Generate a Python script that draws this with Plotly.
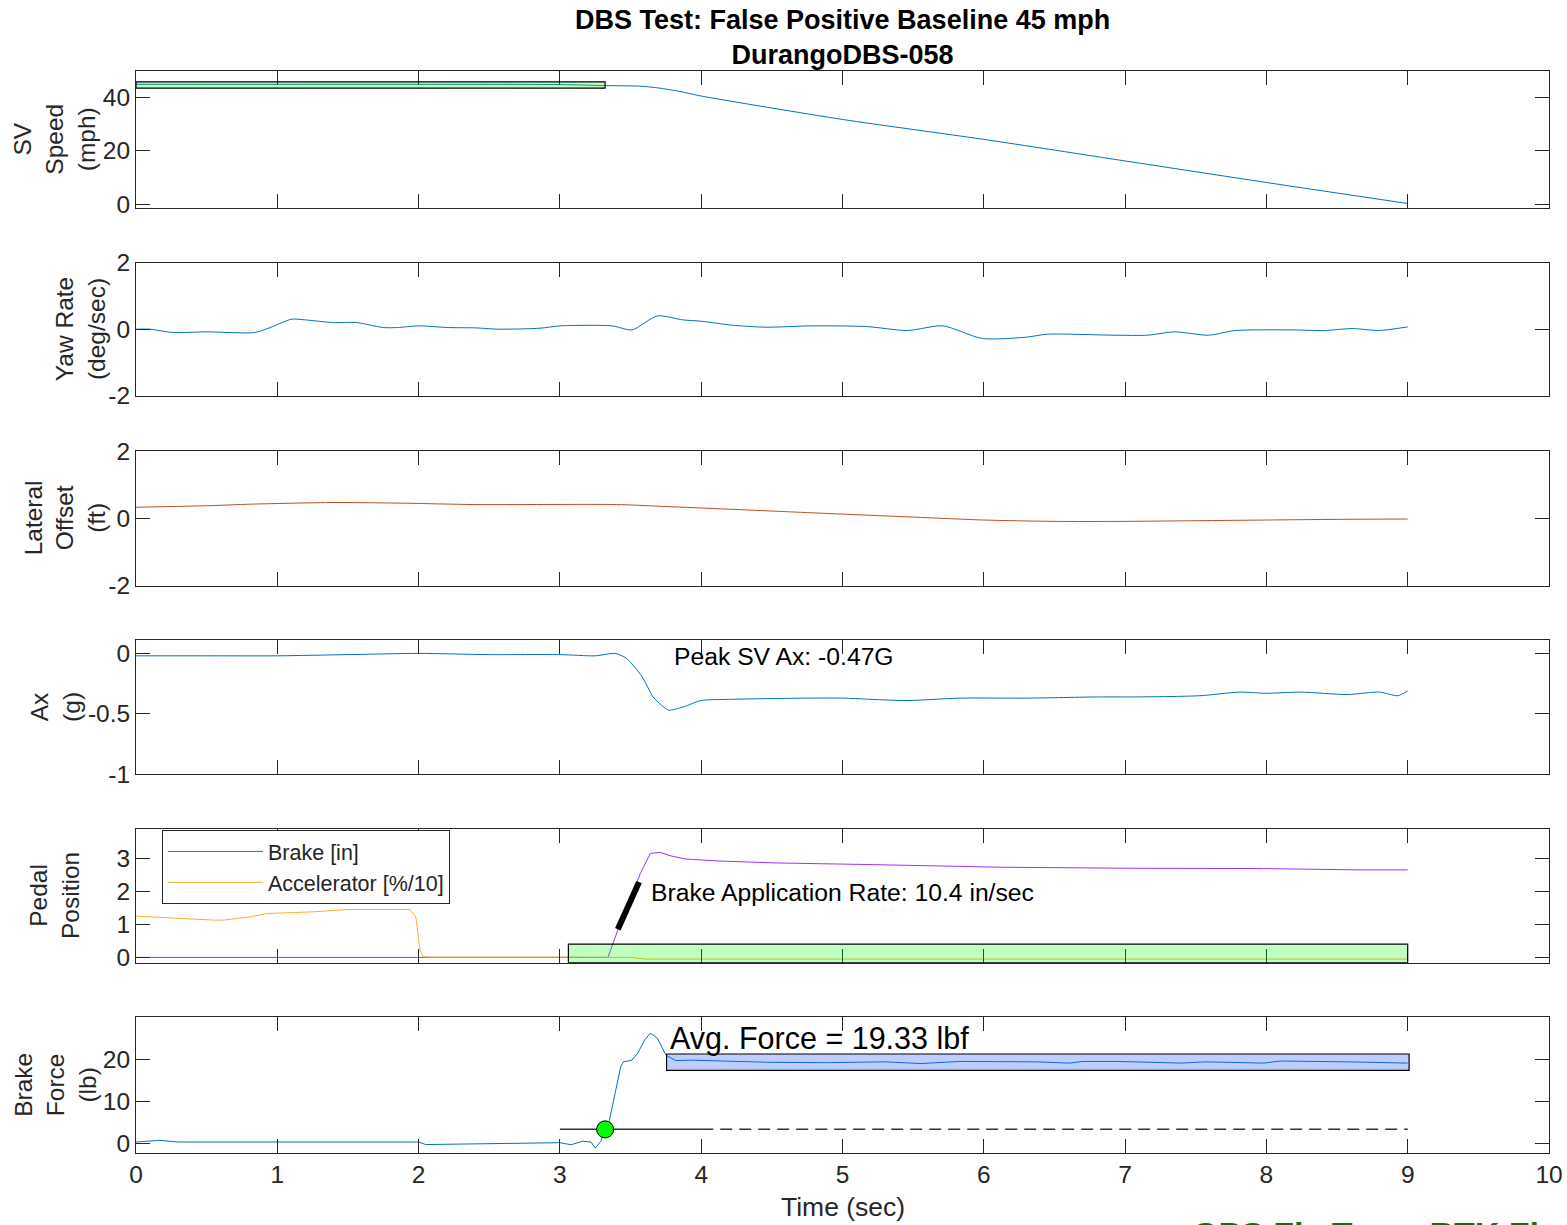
import plotly.graph_objects as go

FONT = "Liberation Sans, Arial, Helvetica, sans-serif"
DARK = "#262626"
BLUE = "#0072BD"
BROWN = "#B8521E"
PURPLE = "#9933FF"
ORANGE = "#FFAA33"

# ---------------- data ----------------
time_ticks = [0, 1, 2, 3, 4, 5, 6, 7, 8, 9, 10]

speed_t = [0, 1, 2, 3, 3.33, 3.57, 3.7, 3.85, 4.0, 5.0, 6.0, 7.0, 8.0, 9.0]
speed_mph = [45.0, 45.0, 45.0, 44.9, 44.5, 44.3, 43.6, 42.3, 40.6, 31.8, 24.3, 16.2, 8.1, 0.2]
speed_box = [0.0, 3.32, 43.6, 45.9]  # t0, t1, v0, v1

yaw_t = [0, 0.1, 0.26, 0.5, 0.84, 0.95, 1.1, 1.2, 1.39, 1.56, 1.75, 1.85, 2.0, 2.21, 2.4, 2.57,
         2.86, 3.0, 3.37, 3.51, 3.69, 3.87, 4.0, 4.22, 4.46, 4.77, 5.17, 5.46, 5.71, 5.99, 6.3,
         6.45, 6.92, 7.16, 7.35, 7.59, 7.78, 8.17, 8.41, 8.61, 8.8, 9.0]
yaw_rate = [0.0, 0.0, -0.1, -0.08, -0.1, 0.05, 0.3, 0.28, 0.2, 0.2, 0.05, 0.05, 0.1, 0.05, 0.04,
            0.0, 0.03, 0.1, 0.1, -0.02, 0.4, 0.28, 0.24, 0.12, 0.06, 0.1, 0.08, -0.04, 0.1, -0.28,
            -0.24, -0.15, -0.18, -0.18, -0.08, -0.18, -0.04, -0.02, -0.04, 0.02, -0.04, 0.07]

lat_t = [0, 0.55, 0.8, 1.4, 1.9, 2.4, 3.4, 3.7, 4.1, 4.7, 5.2, 5.6, 6.0, 6.5, 7.0, 7.5, 8.0, 8.5, 9.0]
lat_offset = [0.33, 0.38, 0.42, 0.47, 0.45, 0.41, 0.41, 0.36, 0.29, 0.18, 0.09, 0.02, -0.05, -0.09,
              -0.09, -0.07, -0.05, -0.03, -0.02]

ax_t = [0, 0.5, 1.0, 1.5, 2.0, 2.5, 3.0, 3.25, 3.39, 3.47, 3.58, 3.66, 3.72, 3.77, 3.82, 3.88, 4.0,
        4.2, 4.74, 5.0, 5.45, 5.83, 6.3, 6.82, 7.08, 7.53, 7.81, 8.0, 8.24, 8.57, 8.8, 8.93, 9.0]
ax_g = [-0.02, -0.02, -0.02, -0.01, 0.0, -0.01, -0.01, -0.02, 0.0, -0.04, -0.19, -0.36, -0.43,
        -0.47, -0.46, -0.44, -0.39, -0.38, -0.37, -0.37, -0.39, -0.37, -0.37, -0.36, -0.36, -0.35,
        -0.32, -0.33, -0.32, -0.34, -0.32, -0.35, -0.31]
peak_ax_label = "Peak SV Ax: -0.47G"
peak_ax_pos = [3.79, -0.025]

brake_t = [0, 3.34, 3.41, 3.5, 3.57, 3.64, 3.71, 3.78, 3.89, 4.12, 4.54, 5.22, 6.14, 7.06, 7.98, 8.67, 9.0]
brake_in = [0.0, 0.0, 0.83, 1.83, 2.55, 3.15, 3.18, 3.08, 2.98, 2.92, 2.86, 2.81, 2.73, 2.70, 2.69, 2.65, 2.65]
acc_t = [0, 0.36, 0.55, 0.62, 0.81, 0.93, 1.25, 1.5, 1.94, 1.98, 2.01, 2.03, 2.1, 3.0, 3.5, 3.6, 9.0]
acc_pct10 = [1.25, 1.16, 1.13, 1.13, 1.23, 1.33, 1.38, 1.45, 1.45, 1.23, 0.22, 0.02, 0.01, 0.01, 0.0,
             -0.05, -0.05]
rate_seg_t = [3.41, 3.56]
rate_seg_v = [0.85, 2.28]
rate_label = "Brake Application Rate: 10.4 in/sec"
rate_label_pos = [3.63, 1.96]
pedal_box = [3.06, 9.0, -0.16, 0.40]

force_t = [0, 0.17, 0.3, 1.0, 2.0, 2.05, 2.5, 3.0, 3.08, 3.16, 3.22, 3.25, 3.29, 3.32, 3.35, 3.39,
           3.43, 3.45, 3.51, 3.55, 3.6, 3.64, 3.69, 3.75, 3.82, 3.93, 4.2, 4.47, 4.88, 5.29, 5.56,
           5.83, 6.37, 6.61, 6.7, 6.94, 7.4, 7.57, 7.98, 8.1, 8.57, 9.0]
force_lb = [0.4, 0.8, 0.4, 0.4, 0.4, -0.2, 0.0, 0.24, -0.24, 0.6, 0.4, -1.05, 0.6, 3.4, 5.5, 11.9,
            18.2, 19.4, 19.8, 21.4, 24.6, 26.2, 25.0, 21.0, 19.7, 19.8, 19.6, 19.3, 19.2, 19.4, 19.0,
            19.5, 19.4, 19.1, 19.5, 19.5, 19.1, 19.4, 19.1, 19.6, 19.4, 19.1]
threshold_lb = 3.4
threshold_solid = [3.0, 4.0]
threshold_dash = [4.0, 9.0]
onset_point = [3.32, 3.4]
force_box = [3.755, 9.01, 17.4, 21.26]
avg_force_label = "Avg. Force = 19.33 lbf"
avg_force_pos = [3.765, 25.0]

title_lines = ["DBS Test: False Positive Baseline 45 mph", "DurangoDBS-058"]
y_labels = ["SV<br>Speed<br>(mph)", "Yaw Rate<br>(deg/sec)", "Lateral<br>Offset<br>(ft)",
            "Ax<br>(g)", "Pedal<br>Position", "Brake<br>Force<br>(lb)"]
y_label_x_px = [55, 80, 65, 56, 54, 56]
y_ranges = [[-1.6, 50.0], [-2, 2], [-2, 2], [-1, 0.115], [-0.16, 3.88], [-2.2, 30.1]]
y_ticks = [[0, 20, 40], [-2, 0, 2], [-2, 0, 2], [-1, -0.5, 0], [0, 1, 2, 3], [0, 10, 20]]
y_ticktext = [["0", "20", "40"], ["-2", "0", "2"], ["-2", "0", "2"], ["-1", "-0.5", "0"],
              ["0", "1", "2", "3"], ["0", "10", "20"]]
x_label = "Time (sec)"
gps_label = "GPS Fix Type: RTK Fix"

# ---------------- layout geometry (page pixels) ----------------
W, H = 1567, 1225
ML, MT = 136, 71
MR = W - 1549
MB = H - 1153
PH = H - MT - MB
panel_px = [(71, 208.3), (262.7, 395.7), (451, 585.7), (639.5, 774.3), (829.3, 962.7), (1016.7, 1153)]


def py(p):
    return (1153 - p) / PH


def pxx(p):
    return (p - 136) / (1549 - 136)


domains = [[py(b), py(t)] for t, b in panel_px]
domains[0][1] = 1.0
domains[5][0] = 0.0

fig = go.Figure()


def add_line(x, y, row, color=BLUE, width=1, shape="linear", **kw):
    fig.add_trace(go.Scatter(x=x, y=y, mode="lines",
                             line=dict(color=color, width=width, shape=shape,
                                       smoothing=0.7 if shape == "spline" else None),
                             xaxis="x" if row == 1 else f"x{row}",
                             yaxis="y" if row == 1 else f"y{row}",
                             showlegend=kw.pop("showlegend", False), **kw))


add_line(speed_t, speed_mph, 1, shape="spline")
add_line(yaw_t, yaw_rate, 2, shape="spline")
add_line(lat_t, lat_offset, 3, color=BROWN, shape="spline")
add_line(ax_t, ax_g, 4, shape="spline")
add_line(brake_t, brake_in, 5, color=PURPLE, name="Brake [in]", showlegend=True)
add_line(acc_t, acc_pct10, 5, color=ORANGE, name="Accelerator [%/10]", showlegend=True)
add_line(rate_seg_t, rate_seg_v, 5, color="black", width=6)
add_line(force_t, force_lb, 6)
add_line(threshold_solid, [threshold_lb, threshold_lb], 6, color="#333333", width=1.5)
add_line(threshold_dash, [threshold_lb, threshold_lb], 6, color="#333333", width=1.5)
fig.data[-1].line.dash = "12px,7px"
fig.add_trace(go.Scatter(x=[onset_point[0]], y=[onset_point[1]], mode="markers",
                         marker=dict(size=17, color="#00FF00", line=dict(color="black", width=1)),
                         xaxis="x6", yaxis="y6", showlegend=False))

shapes = [
    dict(type="rect", xref="x", yref="y", x0=speed_box[0], x1=speed_box[1], y0=speed_box[2],
         y1=speed_box[3], fillcolor="rgba(0,255,0,0.25)", line=dict(color="black", width=1.2),
         layer="above"),
    dict(type="rect", xref="x5", yref="y5", x0=pedal_box[0], x1=pedal_box[1], y0=pedal_box[2],
         y1=pedal_box[3], fillcolor="rgba(0,255,0,0.25)", line=dict(color="black", width=1.2),
         layer="above"),
    dict(type="rect", xref="x6", yref="y6", x0=force_box[0], x1=force_box[1], y0=force_box[2],
         y1=force_box[3], fillcolor="rgba(40,90,255,0.3)", line=dict(color="black", width=1.2),
         layer="above"),
]

annotations = [
    dict(text="<b>" + "<br>".join(title_lines) + "</b>", xref="paper", yref="paper", x=0.5,
         y=py(37), xanchor="center", yanchor="middle", showarrow=False,
         font=dict(size=27, color="black", family=FONT)),
    dict(text=peak_ax_label, xref="x4", yref="y4", x=peak_ax_pos[0], y=peak_ax_pos[1],
         xanchor="left", yanchor="middle", showarrow=False, font=dict(size=24.7, color="black", family=FONT)),
    dict(text=rate_label, xref="x5", yref="y5", x=rate_label_pos[0], y=rate_label_pos[1],
         xanchor="left", yanchor="middle", showarrow=False, font=dict(size=24.7, color="black", family=FONT)),
    dict(text=avg_force_label, xref="x6", yref="y6", x=avg_force_pos[0], y=avg_force_pos[1],
         xanchor="left", yanchor="middle", showarrow=False, font=dict(size=30.5, color="black", family=FONT)),
    dict(text=x_label, xref="paper", yref="paper", x=0.5, y=py(1207), xanchor="center",
         yanchor="middle", showarrow=False, font=dict(size=26.5, color=DARK, family=FONT)),
    dict(text="<b>" + gps_label + "</b>", xref="paper", yref="paper", x=pxx(1190), y=py(1213),
         xanchor="left", yanchor="top", showarrow=False, font=dict(size=34, color="#008000", family=FONT)),
]
for i, lab in enumerate(y_labels):
    t, b = panel_px[i]
    annotations.append(dict(text=lab, xref="paper", yref="paper", x=pxx(y_label_x_px[i]),
                            y=py((t + b) / 2), xanchor="center", yanchor="middle", textangle=-90,
                            showarrow=False, font=dict(size=24.5, color=DARK, family=FONT)))

axis_common = dict(showline=True, linecolor=DARK, linewidth=1, mirror="ticks", ticks="inside",
                   ticklen=14, tickwidth=1, tickcolor=DARK, showgrid=False, zeroline=False,
                   tickfont=dict(size=24.5, color=DARK, family=FONT))

layout = dict(width=W, height=H, margin=dict(l=ML, r=MR, t=MT, b=MB), paper_bgcolor="white",
              plot_bgcolor="white", template="none", shapes=shapes, annotations=annotations,
              showlegend=True,
              legend=dict(x=pxx(162), y=py(867), xanchor="left", yanchor="middle", bordercolor=DARK,
                          borderwidth=1, bgcolor="white", itemwidth=95, tracegroupgap=0,
                          font=dict(size=21.5, color=DARK, family=FONT)))
for i in range(6):
    n = "" if i == 0 else str(i + 1)
    layout["xaxis" + n] = dict(axis_common, domain=[0, 1], range=[0, 10], tickvals=time_ticks,
                               ticktext=[str(v) for v in time_ticks], showticklabels=(i == 5),
                               anchor="y" + n)
    layout["yaxis" + n] = dict(axis_common, domain=domains[i], range=y_ranges[i],
                               tickvals=y_ticks[i], ticktext=y_ticktext[i], anchor="x" + n)

fig.update_layout(**layout)
# place the figure at the page origin (no default 8px body margin, no scrollbars)
fig.write_html("out.html", config={"displayModeBar": False},
               post_script="document.body.style.margin='0';document.body.style.overflow='hidden';")
